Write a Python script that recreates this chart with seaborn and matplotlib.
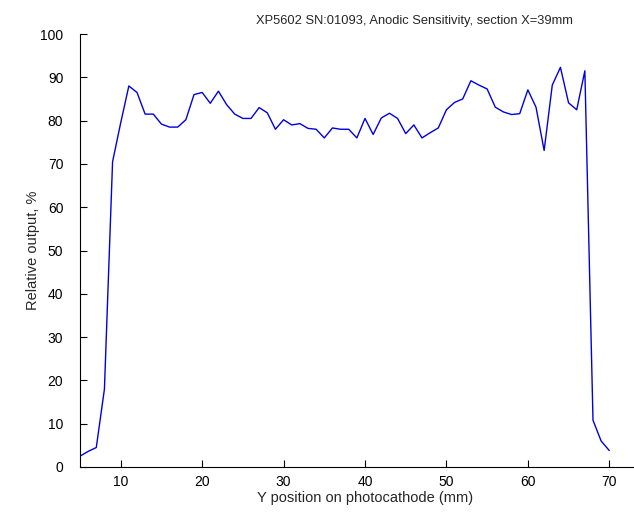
import matplotlib
matplotlib.use("Agg")
import matplotlib.pyplot as plt
import seaborn as sns
import pandas as pd

# Data
y_position_mm = list(range(5, 71))
relative_output = [
    2.5, 3.6, 4.5, 18.0, 70.5, 79.5, 88.0, 86.5, 81.5, 81.5,   # 5-14
    79.2, 78.5, 78.5, 80.2, 86.0, 86.5, 84.0, 86.8, 83.7, 81.5,  # 15-24
    80.5, 80.5, 83.0, 81.8, 78.0, 80.2, 79.0, 79.3, 78.2, 78.0,  # 25-34
    76.0, 78.3, 78.0, 78.0, 76.0, 80.5, 76.8, 80.6, 81.7, 80.5,  # 35-44
    77.0, 79.0, 76.0, 77.2, 78.3, 82.5, 84.2, 85.0, 89.2, 88.2,  # 45-54
    87.3, 83.1, 82.0, 81.4, 81.6, 87.1, 83.1, 73.1, 88.2, 92.3,  # 55-64
    84.1, 82.5, 91.5, 10.8, 6.0, 3.8,                           # 65-70
]
x_ticks = [10, 20, 30, 40, 50, 60, 70]
y_ticks = [0, 10, 20, 30, 40, 50, 60, 70, 80, 90, 100]

df = pd.DataFrame({"y_mm": y_position_mm, "output": relative_output})

sns.set_style("white")
plt.rcParams["font.family"] = ["Liberation Sans", "DejaVu Sans"]

fig = plt.figure(figsize=(6.34, 5.15), dpi=100)
ax = fig.add_axes([80 / 634, 48 / 515, 570 / 634, 433 / 515])

sns.lineplot(data=df, x="y_mm", y="output", color="#0000e0", linewidth=1.0, ax=ax)

ax.set_xlim(5, 75)
ax.set_ylim(0, 100)
ax.set_xticks(x_ticks)
ax.set_yticks(y_ticks)
ax.tick_params(direction="in", length=5, width=0.8, colors="black", labelsize=10,
               left=True, bottom=True, top=False, right=False)
ax.tick_params(axis="y", pad=12)
ax.tick_params(axis="x", pad=6)
for s in ["top", "right"]:
    ax.spines[s].set_visible(False)
for s in ["left", "bottom"]:
    ax.spines[s].set_color("black")
    ax.spines[s].set_linewidth(0.8)

ax.set_xlabel("Y position on photocathode (mm)", fontsize=10.5, labelpad=1)
ax.set_ylabel("Relative output, %", fontsize=10.5, labelpad=0)
ax.set_title("XP5602 SN:01093, Anodic Sensitivity, section X=39mm",
             fontsize=9.3, x=0.586, pad=7)

fig.savefig("out.png", dpi=100)
